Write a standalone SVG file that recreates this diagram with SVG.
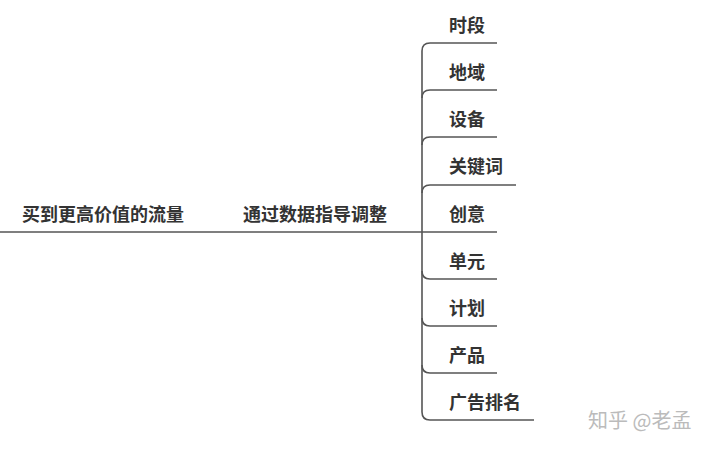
<svg xmlns="http://www.w3.org/2000/svg" width="720" height="449" viewBox="0 0 720 449">
<style>
text{font-family:"Noto Sans CJK SC","Noto Sans",sans-serif;font-size:18px;font-weight:bold;fill:#333}
.c{fill:none;stroke:#555;stroke-width:1.6}
.w{fill:#bbb;font-weight:normal;font-size:20px}
</style>
<rect width="720" height="449" fill="#fff"/>
<g id="connectors">
<path class="c" d="M0 232H497"/>
<path class="c" d="M422 232V51Q422 43 430 43H497"/>
<path class="c" d="M422 98Q422 90 430 90H497M422 145Q422 137 430 137H497M422 193Q422 185 430 185H516"/>
<path class="c" d="M422 232V412Q422 420 430 420H534"/>
<path class="c" d="M422 271Q422 279 430 279H497M422 318Q422 326 430 326H497M422 365Q422 373 430 373H497"/>
</g>
<g id="root"><text x="22" y="221">买到更高价值的流量</text></g>
<g id="mid"><text x="243" y="221">通过数据指导调整</text></g>
<g id="n1"><text x="449" y="32">时段</text></g>
<g id="n2"><text x="449" y="79">地域</text></g>
<g id="n3"><text x="449" y="126">设备</text></g>
<g id="n4"><text x="449" y="173">关键词</text></g>
<g id="n5"><text x="449" y="221">创意</text></g>
<g id="n6"><text x="449" y="268">单元</text></g>
<g id="n7"><text x="449" y="315">计划</text></g>
<g id="n8"><text x="449" y="362">产品</text></g>
<g id="n9"><text x="449" y="409">广告排名</text></g>
<text class="w" x="588" y="428">知乎 @老孟</text>
</svg>
